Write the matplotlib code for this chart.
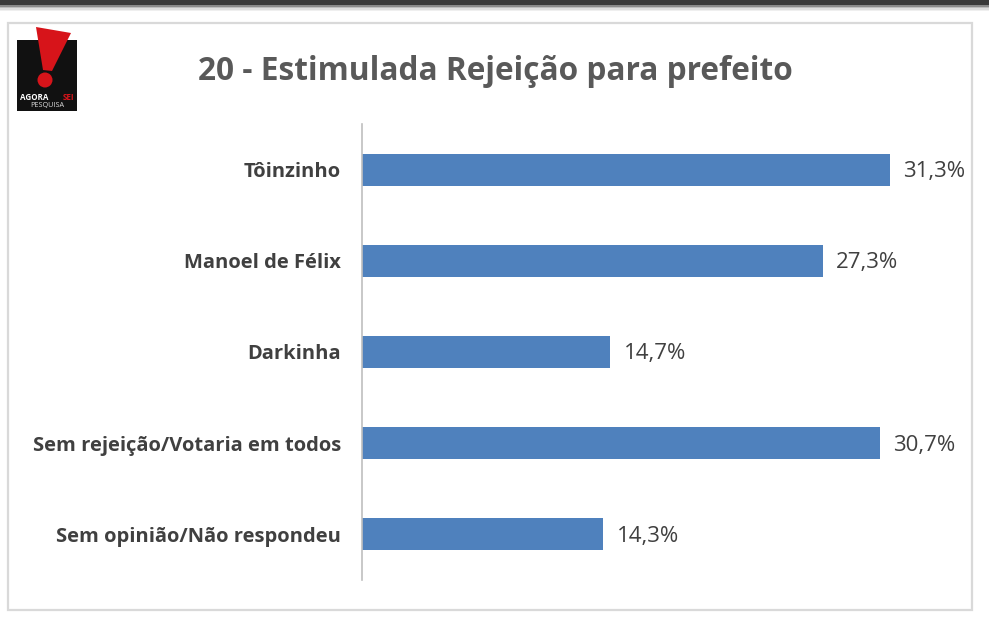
import matplotlib
matplotlib.use("Agg")
import matplotlib.pyplot as plt
from matplotlib.patches import Rectangle, Polygon, Circle

plt.rcParams["font.family"] = ["Open Sans", "DejaVu Sans"]

# ---------------------------------------------------------------- data
categorias = ["Tôinzinho", "Manoel de Félix", "Darkinha",
              "Sem rejeição/Votaria em todos", "Sem opinião/Não respondeu"]
valores = [31.3, 27.3, 14.7, 30.7, 14.3]
rotulos = ["31,3%", "27,3%", "14,7%", "30,7%", "14,3%"]
titulo = "20 - Estimulada Rejeição para prefeito"

W, H = 989, 633
fig = plt.figure(figsize=(W / 100, H / 100), dpi=100)
fig.patch.set_facecolor("white")

# ---------------------------------------------------------------- moldura (coords em pixel)
bg = fig.add_axes([0, 0, 1, 1], zorder=0)
bg.set_xlim(0, W)
bg.set_ylim(H, 0)
bg.axis("off")
bg.add_patch(Rectangle((0, 0), W, 5, color="#3a3a3a", lw=0))
for i, c in enumerate(["#8a8a8a", "#bdbdbd", "#dedede", "#efefef"]):
    bg.add_patch(Rectangle((0, 5 + i * 1.5), W, 1.5, color=c, lw=0))
bg.add_patch(Rectangle((8, 23), 964, 587, fill=False, ec="#d9d9d9", lw=1.6))

# logo
bg.add_patch(Rectangle((17, 40), 60, 71, color="#111111", lw=0))
bg.add_patch(Polygon([(36, 27), (71, 33), (52, 71), (43, 70)], closed=True,
                     color="#d7141a", lw=0))
bg.add_patch(Circle((45, 80), 7.5, color="#d7141a", lw=0))
bg.text(20, 97, "AGORA", color="white", fontsize=5.8, fontweight="bold",
        va="center", ha="left")
bg.text(74, 97, "SEI", color="#d7141a", fontsize=5.8, fontweight="bold",
        va="center", ha="right")
bg.text(47, 105, "PESQUISA", color="#dddddd", fontsize=5.2,
        va="center", ha="center")

fig.text(495 / W, 1 - 71 / H, titulo, ha="center", va="center",
         fontsize=22.8, fontweight="bold", color="#595959")

# ---------------------------------------------------------------- barras
ax = fig.add_axes([362 / W, 1 - 580 / H, 610 / W, 456 / H], zorder=1)
ax.patch.set_alpha(0)
y = list(range(len(categorias)))
ax.barh(y, valores, height=0.35, color="#4f81bd")
for yi, v, r in zip(y, valores, rotulos):
    ax.text(v + 0.8, yi + 0.02, r, va="center", ha="left", fontsize=16,
            color="#404040")
ax.set_ylim(len(categorias) - 0.5, -0.5)
ax.set_xlim(0, 610 / 16.87)
ax.set_yticks(y)
ax.set_yticklabels(categorias, fontsize=14.5, fontweight="bold", color="#404040")
ax.tick_params(axis="y", length=0, pad=15)
ax.set_xticks([])
for s in ["top", "right", "bottom"]:
    ax.spines[s].set_visible(False)
ax.spines["left"].set_color("#bfbfbf")
ax.spines["left"].set_linewidth(1.2)

fig.savefig("out.png", dpi=100)
